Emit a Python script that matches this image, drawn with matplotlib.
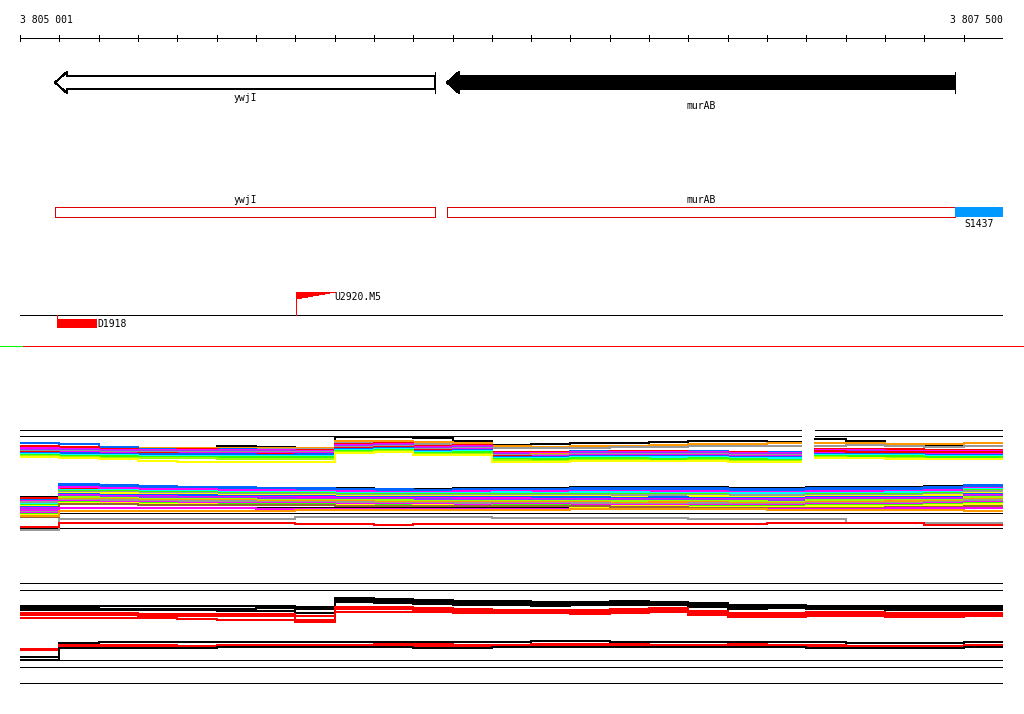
import numpy as np
import matplotlib
matplotlib.use("Agg")
import matplotlib.pyplot as plt
from matplotlib.patches import Polygon, Rectangle
from matplotlib.lines import Line2D

plt.rcParams['font.family'] = 'DejaVu Sans Mono'
plt.rcParams['lines.antialiased'] = False
plt.rcParams['patch.antialiased'] = False

# region shown
start, end = 3805000, 3807500
start_label, end_label = "3 805 001", "3 807 500"

# genes (minus strand arrows)
genes = ["ywjI", "murAB"]
gene_start = [3805089, 3806086]
gene_end = [3806055, 3807378]
gene_fill = ["white", "black"]
gene_label_y = [98, 106]

# segment and features
seg_name, seg_start, seg_end = "S1437", 3807378, 3807500
d_name, d_start, d_end = "D1918", 3805094, 3805196
u_name, u_pos = "U2920.M5", 3805702

# signal tracks, sampled every 100 bp (26 values, row positions)
samples = np.arange(start, end + 1, 100)
gap = [3806986, 3807022]   # no data in the upper track

top_ref = [430, 436, 452]
top_lines = [
    ("#000000", "449 449 450 450 448 446 447 449 437 437 438 441 445 444 443 443 442 441 441 442 439 441 444 445 443 443"),
    ("#ff9900", "447 447 448 448 448 448 448 448 441 441 442 443 446 447 446 446 445 444 444 443 443 443 444 444 443 443"),
    ("#999999", "448 448 449 449 449 449 449 449 443 443 444 445 448 448 448 447 447 446 446 446 446 445 446 447 446 446"),
    ("#0066ff", "443 444 447 449 449 449 450 450 444 444 446 446 452 452 451 451 451 451 452 452 450 450 450 450 451 451"),
    ("#ff0000", "446 447 449 450 449 450 450 450 444 443 446 445 452 452 452 451 451 452 452 453 449 449 449 450 450 450"),
    ("#ff00ff", "448 449 450 450 450 450 450 451 445 444 447 446 453 453 452 452 452 452 453 453 450 450 451 451 451 451"),
    ("#9933ff", "450 450 451 451 451 451 451 452 446 445 448 447 454 454 453 453 453 453 454 454 451 451 452 452 452 452"),
    ("#ff9900", "451 451 452 453 452 452 453 453 447 446 449 448 455 454 455 454 454 455 455 456 452 452 453 453 453 453"),
    ("#999999", "451 451 452 452 452 452 452 452 447 446 449 448 455 455 454 454 454 454 455 455 452 452 452 453 453 453"),
    ("#ff00ff", "452 452 453 453 453 453 453 453 448 447 450 449 456 456 455 455 455 455 456 456 453 453 453 454 454 454"),
    ("#ff0000", "452 453 454 453 454 454 454 455 448 447 450 450 456 457 456 457 456 457 457 458 451 452 452 452 452 452"),
    ("#0066ff", "453 453 454 454 454 454 455 454 449 448 451 450 457 457 456 456 456 456 457 457 454 454 454 455 455 455"),
    ("#00ffff", "454 455 455 456 456 456 456 456 450 449 452 451 458 458 457 457 457 457 458 458 455 455 455 456 456 456"),
    ("#00ffff", "455 455 456 457 457 458 458 458 450 450 452 453 459 459 459 459 458 459 460 460 456 457 457 458 458 458"),
    ("#33ff00", "455 456 456 457 457 457 457 457 451 450 453 452 459 459 458 458 459 458 459 460 456 456 456 457 457 457"),
    ("#99ff00", "456 457 458 458 458 459 459 459 452 451 454 454 460 461 460 460 461 460 461 461 457 458 458 459 459 459"),
    ("#ffff00", "457 458 459 461 462 462 462 462 453 452 455 455 462 462 461 461 461 461 462 462 458 458 459 459 459 459"),
]

mid_ref = [507, 513, 528]
mid_lines = [
    ("#000000", "497 486 486 487 488 488 488 488 488 489 489 488 488 488 487 487 487 487 488 488 487 487 487 486 485 485"),
    ("#0066ff", "499 484 485 486 487 487 488 488 489 489 490 489 489 489 488 488 488 488 489 489 488 488 488 487 485 485"),
    ("#ff0000", "498 488 488 489 490 490 490 490 491 491 490 490 490 490 490 490 490 490 491 491 491 490 490 489 487 487"),
    ("#0066ff", "500 485 486 487 488 488 489 489 490 490 490 490 490 490 490 489 490 490 490 490 489 489 489 488 486 486"),
    ("#ff00ff", "501 487 488 489 489 490 490 491 491 492 492 491 491 491 491 491 491 491 492 492 491 491 491 490 488 488"),
    ("#00ffff", "503 490 490 491 491 492 492 492 493 493 493 493 492 493 492 492 493 493 493 493 493 493 492 492 489 489"),
    ("#33ff00", "505 491 491 492 492 493 493 493 494 494 494 494 494 494 494 494 494 494 495 495 494 494 494 493 490 490"),
    ("#999999", "502 492 492 493 493 494 494 494 495 495 495 495 495 495 495 495 495 495 495 495 495 495 495 494 491 491"),
    ("#ffff00", "506 493 493 494 494 495 495 495 496 496 496 496 496 496 496 497 497 496 497 497 496 496 496 495 493 493"),
    ("#0066ff", "507 494 495 495 495 496 496 496 497 497 497 497 497 497 497 498 497 498 498 498 497 497 497 497 494 494"),
    ("#ff00ff", "508 495 496 496 497 497 497 497 498 498 498 498 498 499 499 499 499 499 499 499 498 498 498 498 495 495"),
    ("#9933ff", "509 496 497 497 498 498 498 499 499 499 499 500 500 500 500 500 500 500 500 500 499 499 499 499 496 496"),
    ("#99ff00", "510 497 498 499 499 499 500 500 500 500 501 501 501 501 501 501 501 501 501 502 500 500 500 500 497 497"),
    ("#ff9900", "511 499 499 500 500 500 501 501 501 502 502 502 502 502 502 503 502 502 503 503 502 502 501 501 499 499"),
    ("#999999", "512 500 500 501 501 501 502 502 502 503 503 503 503 503 503 504 504 503 504 504 503 503 503 502 500 500"),
    ("#ff00ff", "513 501 502 502 503 503 503 503 504 504 504 505 504 504 505 505 505 505 505 505 504 504 504 503 502 502"),
    ("#33ff00", "514 502 503 503 504 504 504 504 505 505 505 506 505 505 506 506 506 506 506 506 505 505 505 504 503 503"),
    ("#ffff00", "515 503 503 504 504 505 505 505 505 506 505 506 506 506 507 506 506 507 507 507 506 506 506 505 504 504"),
    ("#996633", "517 504 504 505 505 505 505 505 506 506 506 506 506 506 506 507 507 508 508 508 508 508 507 507 506 506"),
    ("#ff00ff", "510 508 508 508 508 508 509 509 509 509 509 509 509 509 509 509 509 509 509 509 509 509 508 508 508 508"),
    ("#ff9900", "516 511 511 511 511 511 511 510 510 510 510 510 510 510 509 509 509 509 509 510 510 510 510 510 511 511"),
    ("#999999", "530 519 519 519 519 519 519 517 517 517 517 517 518 518 518 518 518 519 519 519 519 523 523 523 523 523"),
    ("#ff0000", "527 523 523 523 523 523 523 524 524 525 524 524 524 524 524 524 524 524 524 523 523 523 523 525 525 525"),
]

low_ref = [583, 590, 660, 667, 683]
low_lines = [
    ("#000000", "606 606 606 606 606 606 606 607 598 599 600 601 601 602 602 601 602 603 605 605 606 606 606 606 606 606"),
    ("#000000", "608 608 609 609 609 609 608 609 600 601 602 603 603 604 604 603 604 605 607 607 607 607 608 608 608 608"),
    ("#000000", "610 610 610 610 610 611 611 613 602 603 604 605 605 606 605 605 605 607 609 608 609 609 610 610 610 610"),
    ("#ff0000", "613 613 613 614 614 614 614 616 607 607 608 609 610 610 610 609 608 611 613 613 612 612 613 613 613 613"),
    ("#ff0000", "615 615 615 616 616 616 616 620 609 609 610 611 612 612 612 611 610 613 615 615 614 614 615 615 615 615"),
    ("#ff0000", "618 618 618 618 619 620 620 622 612 612 612 613 613 613 614 613 612 615 617 617 616 616 617 617 616 616"),
    ("#000000", "657 643 642 642 642 642 642 642 642 642 642 642 642 641 641 642 642 642 642 642 642 643 643 643 642 642"),
    ("#ff0000", "649 645 645 645 646 645 645 645 645 644 644 645 645 644 644 644 645 645 644 645 645 646 646 646 645 645"),
    ("#ff0000", "650 646 646 647 647 646 646 646 646 646 646 646 646 645 645 646 646 646 646 646 646 647 647 647 646 646"),
    ("#000000", "660 648 648 648 648 647 647 647 647 647 648 648 647 647 647 647 647 647 647 647 648 648 648 648 647 647"),
]

thin = 0.7   # one pixel


def draw_signal(ax, color, vals, lw, with_gap=False):
    y = np.array(vals.split(), dtype=float)
    x = samples.astype(float)
    if with_gap:
        x = np.r_[x[:20], gap, x[21:]]
        y = np.r_[y[:20], np.nan, y[20:]]
    ax.plot(x, y, color=color, lw=lw, drawstyle="steps-post")


fig = plt.figure(figsize=(10.24, 7.14), dpi=100)
ax = fig.add_axes([20 / 1024, 0, 983 / 1024, 1])
ax.set_xlim(start, end)
ax.set_ylim(714, 0)
ax.axis("off")

# ruler
ax.plot([start, end], [38, 38], color="black", lw=thin)
ax.vlines(np.arange(start, end + 1, 100), 35, 41, color="black", lw=thin)
ax.text(start, 20, start_label, fontsize=7, ha="left", va="center")
ax.text(end, 20, end_label, fontsize=7, ha="right", va="center")

# gene arrows
head = 30
for name, gs, ge, fc, ly in zip(genes, gene_start, gene_end, gene_fill, gene_label_y):
    pts = [(gs, 82.5), (gs + head, 72), (gs + head, 76), (ge, 76),
           (ge, 89), (gs + head, 89), (gs + head, 93)]
    ax.add_patch(Polygon(pts, closed=True, facecolor=fc, edgecolor="black", lw=thin))
    ax.vlines(ge, 72, 93, color="black", lw=thin)
    ax.text((gs + ge) / 2, ly, name, fontsize=7, ha="center", va="center")

# gene boxes
for name, gs, ge in zip(genes, gene_start, gene_end):
    ax.add_patch(Rectangle((gs, 207), ge - gs, 10, fill=False, edgecolor="#dd0000", lw=thin))
    ax.text((gs + ge) / 2, 200, name, fontsize=7, ha="center", va="center")
ax.add_patch(Rectangle((seg_start, 207), seg_end - seg_start, 10, color="#0099ff", lw=0))
ax.text((seg_start + seg_end) / 2, 224, seg_name, fontsize=7, ha="center", va="center")

# feature track
ax.plot([start, end], [315, 315], color="black", lw=thin)
ax.vlines(d_start, 315, 319, color="red", lw=thin)
ax.add_patch(Rectangle((d_start, 319), d_end - d_start, 9, color="red", lw=0))
ax.text(d_end, 324, d_name, fontsize=7, ha="left", va="center")
ax.vlines(u_pos, 292, 315, color="red", lw=thin)
ax.add_patch(Polygon([(u_pos, 292), (u_pos + 100, 292), (u_pos, 299)], closed=True,
                     color="red", lw=0))
ax.text(u_pos + 96, 297, u_name, fontsize=7, ha="left", va="center")

# separator across the whole figure
fig.add_artist(Line2D([0, 23 / 1024], [1 - 346 / 714] * 2, color="#00ff00", lw=thin))
fig.add_artist(Line2D([23 / 1024, 1], [1 - 346 / 714] * 2, color="#ff0000", lw=thin))

# upper signal track (with gap)
for yr in top_ref:
    ax.hlines([yr, yr], [start, gap[1]], [gap[0], end], color="black", lw=thin)
for color, vals in top_lines:
    draw_signal(ax, color, vals, 1.2, with_gap=True)

# middle signal track
for yr in mid_ref:
    ax.hlines(yr, start, end, color="black", lw=thin)
for color, vals in mid_lines:
    draw_signal(ax, color, vals, 1.2)

# lower signal track
for yr in low_ref:
    ax.hlines(yr, start, end, color="black", lw=thin)
for color, vals in low_lines:
    draw_signal(ax, color, vals, 1.1)

fig.savefig("out.png", dpi=100)
